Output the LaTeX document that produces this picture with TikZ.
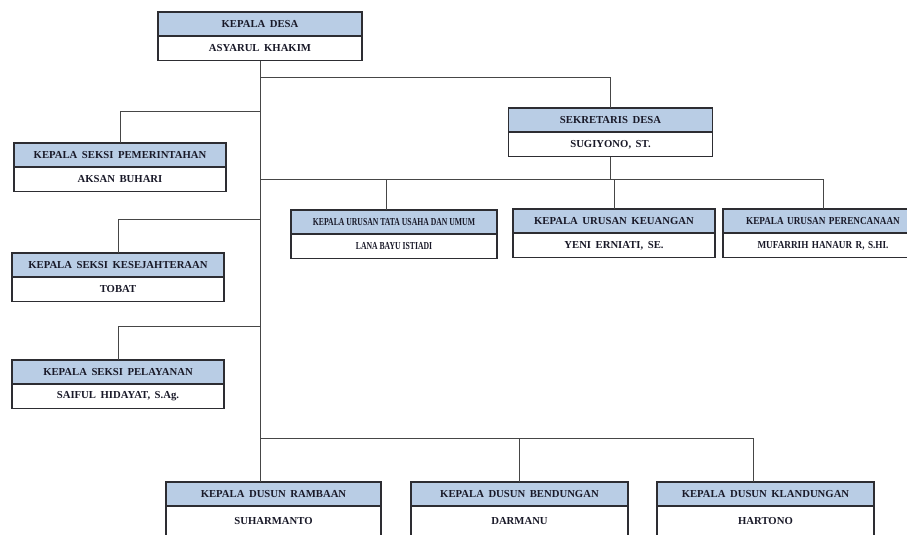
\documentclass[tikz,border=0pt]{standalone}
\usepackage{fontspec}
\setmainfont[WordSpace=1.7]{Liberation Serif}
\newfontfamily\sempit[FakeStretch=0.72]{Liberation Serif}
\newfontfamily\agaksempit[FakeStretch=0.86,WordSpace=1.5]{Liberation Serif}
\usepackage{xcolor}
\usetikzlibrary{positioning}

\definecolor{birumuda}{RGB}{185,205,229}
\definecolor{garistepi}{RGB}{45,45,50}
\definecolor{garishub}{RGB}{70,70,70}
\definecolor{tinta}{RGB}{25,25,40}

\tikzset{
    jabatan/.style={draw=garistepi, line width=0.9pt, fill=birumuda, outer sep=0pt,
        minimum width=#1, minimum height=0.6cm, inner sep=1pt, anchor=north,
        text=tinta, font=\fontsize{7.6}{9}\selectfont\bfseries},
    nama/.style={draw=garistepi, line width=0.9pt, fill=white, outer sep=0pt,
        minimum width=#1, minimum height=0.62cm, inner sep=1pt,
        text=tinta, font=\fontsize{7.6}{9}\selectfont\bfseries},
    hub/.style={draw=garishub, line width=0.6pt}
}

\begin{document}
\begin{tikzpicture}[x=0.025cm, y=-0.025cm]

        \useasboundingbox (0,0) rectangle (907,534);

        % kepala desa dan sekretaris
        \node[jabatan=5.1cm] (kades-h) at (260,12) {KEPALA DESA};
        \node[nama=5.1cm, below=0pt of kades-h] (kades-n) {ASYARUL KHAKIM};

        \node[jabatan=5.1cm] (sekdes-h) at (610.5,108) {SEKRETARIS DESA};
        \node[nama=5.1cm, below=0pt of sekdes-h] (sekdes-n) {SUGIYONO, ST.};

        % kepala seksi
        \node[jabatan=5.3cm] (pemerintahan-h) at (120,143) {KEPALA SEKSI PEMERINTAHAN};
        \node[nama=5.3cm, below=0pt of pemerintahan-h] (pemerintahan-n) {AKSAN BUHARI};

        \node[jabatan=5.3cm] (kesejahteraan-h) at (118,253) {KEPALA SEKSI KESEJAHTERAAN};
        \node[nama=5.3cm, below=0pt of kesejahteraan-h] (kesejahteraan-n) {TOBAT};

        \node[jabatan=5.3cm] (pelayanan-h) at (118,360) {KEPALA SEKSI PELAYANAN};
        \node[nama=5.3cm, below=0pt of pelayanan-h] (pelayanan-n) {SAIFUL HIDAYAT, S.Ag.};

        % kepala urusan
        \node[jabatan=5.15cm, font=\fontsize{7.6}{9}\sempit\bfseries] (tatausaha-h) at (394,210) {KEPALA URUSAN TATA USAHA DAN UMUM};
        \node[nama=5.15cm, below=0pt of tatausaha-h, font=\fontsize{7.6}{9}\sempit\bfseries] (tatausaha-n) {LANA BAYU ISTIADI};

        \node[jabatan=5.05cm] (keuangan-h) at (614,209) {KEPALA URUSAN KEUANGAN};
        \node[nama=5.05cm, below=0pt of keuangan-h] (keuangan-n) {YENI ERNIATI, SE.};

        \node[jabatan=5cm, font=\fontsize{7.6}{9}\agaksempit\bfseries] (perencanaan-h) at (823,209) {KEPALA URUSAN PERENCANAAN};
        \node[nama=5cm, below=0pt of perencanaan-h, font=\fontsize{7.6}{9}\agaksempit\bfseries] (perencanaan-n) {MUFARRIH HANAUR R, S.HI.};

        % kepala dusun
        \node[jabatan=5.375cm] (rambaan-h) at (273.5,482) {KEPALA DUSUN RAMBAAN};
        \node[nama=5.375cm, minimum height=0.75cm, below=0pt of rambaan-h] (rambaan-n) {SUHARMANTO};

        \node[jabatan=5.425cm] (bendungan-h) at (519.5,482) {KEPALA DUSUN BENDUNGAN};
        \node[nama=5.425cm, minimum height=0.75cm, below=0pt of bendungan-h] (bendungan-n) {DARMANU};

        \node[jabatan=5.425cm] (klandungan-h) at (765.5,482) {KEPALA DUSUN KLANDUNGAN};
        \node[nama=5.425cm, minimum height=0.75cm, below=0pt of klandungan-h] (klandungan-n) {HARTONO};

        % garis hubung
        \draw[hub] (kades-n.south) -- (kades-n.south |- rambaan-h.north);
        \draw[hub] (kades-n.south |- 0,77) -| (sekdes-h.north);
        \draw[hub] (kades-n.south |- 0,111) -| (pemerintahan-h.north);
        \draw[hub] (kades-n.south |- 0,219) -| (kesejahteraan-h.north);
        \draw[hub] (kades-n.south |- 0,326) -| (pelayanan-h.north);

        \draw[hub] (sekdes-n.south) -- (sekdes-n.south |- 0,179);
        \draw[hub] (kades-n.south |- 0,179) -| (perencanaan-h.north);
        \draw[hub] ([xshift=-0.18cm]tatausaha-h.north) -- ([xshift=-0.18cm]tatausaha-h.north |- 0,179);
        \draw[hub] (keuangan-h.north) -- (keuangan-h.north |- 0,179);

        \draw[hub] (kades-n.south |- 0,438) -| ([xshift=-0.3cm]klandungan-h.north);
        \draw[hub] (bendungan-h.north) -- (bendungan-h.north |- 0,438);

    \end{tikzpicture}
\end{document}
